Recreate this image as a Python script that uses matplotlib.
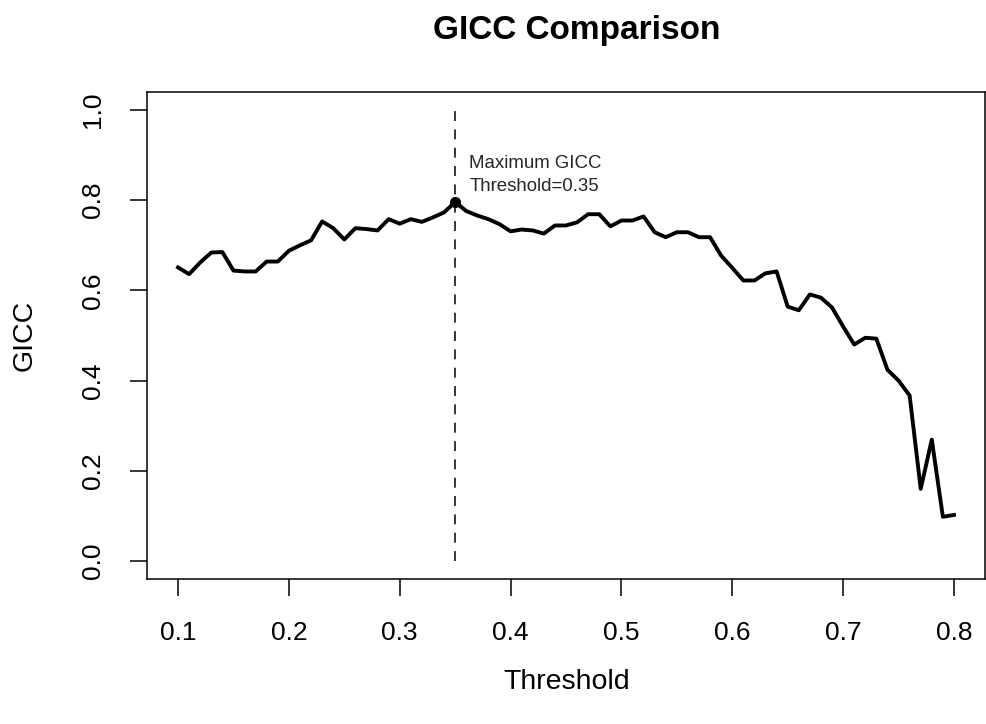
import numpy as np
import matplotlib
matplotlib.use('Agg')
import matplotlib.pyplot as plt

plt.rcParams['font.family'] = ['Liberation Sans', 'DejaVu Sans']

# thresholds 0.10 ... 0.80 and GICC
threshold = np.round(np.arange(0.10, 0.805, 0.01), 2)
gicc = [0.651, 0.636, 0.662, 0.684, 0.685, 0.644, 0.642, 0.642, 0.664, 0.664,
        0.688, 0.700, 0.711, 0.753, 0.738, 0.713, 0.738, 0.736, 0.733, 0.758,
        0.748, 0.758, 0.752, 0.762, 0.773, 0.796, 0.776, 0.766, 0.758, 0.747,
        0.731, 0.735, 0.733, 0.726, 0.744, 0.744, 0.751, 0.769, 0.769, 0.742,
        0.755, 0.755, 0.764, 0.729, 0.718, 0.729, 0.729, 0.718, 0.718, 0.677,
        0.650, 0.622, 0.622, 0.638, 0.642, 0.564, 0.556, 0.591, 0.584, 0.562,
        0.520, 0.480, 0.495, 0.493, 0.424, 0.400, 0.367, 0.160, 0.269, 0.098,
        0.102]
best_thr = 0.35
best_val = gicc[list(threshold).index(best_thr)]

W, H = 986, 724
fig = plt.figure(figsize=(W / 100, H / 100), dpi=100)
ax = fig.add_axes([147 / W, (H - 579) / H, (985 - 147) / W, (579 - 92) / H])

ax.plot(threshold, gicc, color='black', lw=2.8, solid_joinstyle='round')
ax.vlines(best_thr, 0, 1, color='black', lw=1.1, linestyles=(0, (6.5, 5.5)))
ax.plot([best_thr], [best_val], 'o', color='black', ms=7)
ax.text(0.3627, 0.856, 'Maximum GICC\nThreshold=0.35', fontsize=13.4,
        color='#262626', ha='left', va='center', linespacing=1.4)

ax.set_xlim(0.072, 0.828)
ax.set_ylim(-0.04, 1.04)
ax.set_xticks(np.arange(0.1, 0.85, 0.1))
ax.set_xticklabels(['0.1', '0.2', '0.3', '0.4', '0.5', '0.6', '0.7', '0.8'])
ax.set_yticks(np.arange(0, 1.05, 0.2))
ax.set_yticklabels(['0.0', '0.2', '0.4', '0.6', '0.8', '1.0'], rotation=90, va='center')
ax.tick_params(direction='out', length=12.5, width=1.1, labelsize=19, pad=18)
for s in ax.spines.values():
    s.set_linewidth(1.1)

fig.text(567 / W, 1 - 682 / H, 'Threshold', ha='center', va='center', fontsize=20.5)
fig.text(25 / W, 1 - 335 / H, 'GICC', ha='center', va='center', fontsize=20.5, rotation=90)
fig.text(577 / W, 1 - 30 / H, 'GICC Comparison', ha='center', va='center',
         fontsize=24, fontweight='bold')

fig.savefig('out.png', dpi=100)
